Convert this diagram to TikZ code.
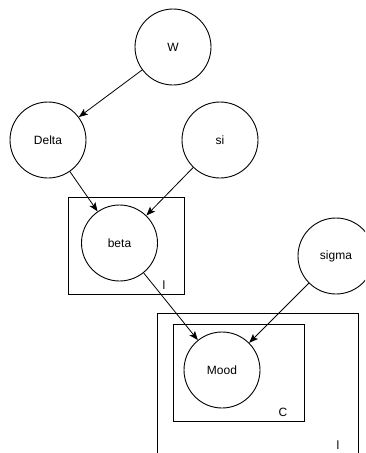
\documentclass[tikz,border=0pt]{standalone}
\usepackage{fontspec}
\setmainfont{Liberation Sans}
\usetikzlibrary{arrows.meta}
\begin{document}
\begin{tikzpicture}[x=1pt,y=-1pt,
  var/.style={circle,draw,line width=0.9pt,minimum size=76pt,inner sep=0pt,font=\fontsize{12}{14}\selectfont},
  plate/.style={draw,line width=0.9pt},
  platelabel/.style={font=\fontsize{12}{14}\selectfont,inner sep=0pt},
  edge/.style={line width=0.8pt,-{Stealth[length=9pt,width=7pt,inset=2pt]}}]
  \clip (0,0) rectangle (365,453);
  \useasboundingbox (0,0) rectangle (365,453);
  % plates
  \node[plate,minimum width=116pt,minimum height=97pt,inner sep=0pt] (pbeta) at (126,245.5) {};
  \node[platelabel] (lbeta) at (164,285) {l};
  \node[plate,minimum width=201pt,minimum height=160pt,inner sep=0pt] (pouter) at (257.5,393) {};
  \node[platelabel] (louter) at (338,445) {l};
  \node[plate,minimum width=131pt,minimum height=97pt,inner sep=0pt] (pinner) at (238.5,372.5) {};
  \node[platelabel] (linner) at (283,412) {C};
  % variables
  \node[var] (W) at (173,47) {W};
  \node[var] (Delta) at (48,140) {Delta};
  \node[var] (si) at (220,140) {si};
  \node[var] (beta) at (119.5,243) {beta};
  \node[var] (sigma) at (336,256) {sigma};
  \node[var] (Mood) at (222,370) {Mood};
  % dependencies
  \draw[edge] (W) -- (Delta);
  \draw[edge] (Delta) -- (beta);
  \draw[edge] (si) -- (beta);
  \draw[edge] (beta) -- (Mood);
  \draw[edge] (sigma) -- (Mood);
\end{tikzpicture}
\end{document}
